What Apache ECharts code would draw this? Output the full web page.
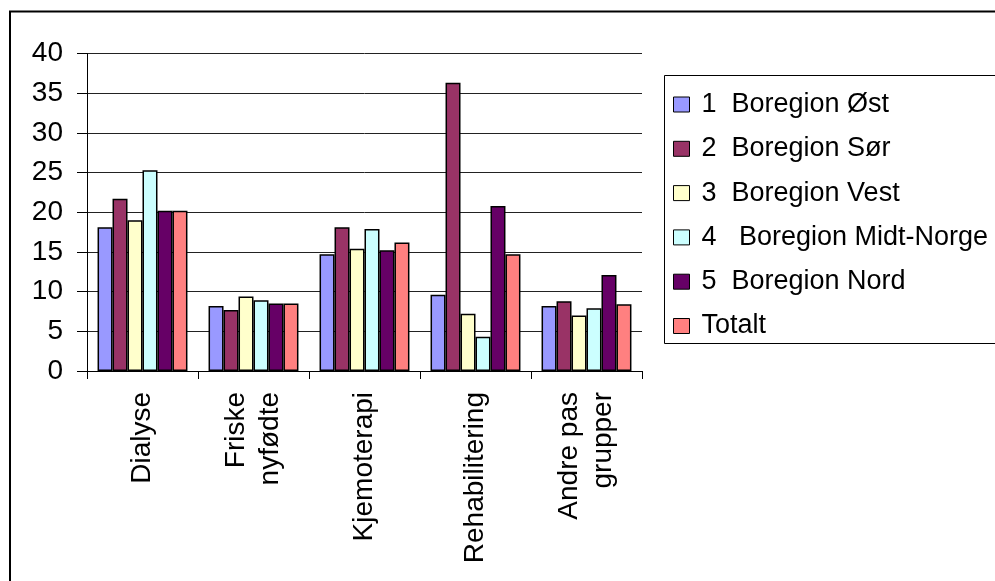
<!DOCTYPE html>
<html>
<head>
<meta charset="utf-8">
<script src="https://cdn.jsdelivr.net/npm/echarts@6/dist/echarts.min.js"></script>
<style>
html, body { margin: 0; padding: 0; background: #fff; }
#chart { width: 995px; height: 581px; }
</style>
</head>
<body>
<div id="chart"></div>
<script>
// kategorier og verdier lest av figuren
var categories = ['Dialyse', 'Friske\nnyfødte', 'Kjemoterapi', 'Rehabilitering', 'Andre pas\ngrupper'];
var seriesNames = ['1  Boregion Øst', '2  Boregion Sør', '3  Boregion Vest', '4   Boregion Midt-Norge', '5  Boregion Nord', 'Totalt'];
var ost = [18.1, 8.2, 14.7, 9.6, 8.2];
var sor = [21.7, 7.7, 18.1, 36.3, 8.8];
var vest = [19.0, 9.4, 15.4, 7.2, 7.0];
var midt = [25.3, 8.9, 17.9, 4.3, 7.9];
var nord = [20.2, 8.5, 15.2, 20.8, 12.1];
var totalt = [20.2, 8.5, 16.2, 14.7, 8.4];
var yTicks = [0, 40, 5]; // min, max, steg
var colors = ['#9999ff', '#993366', '#ffffcc', '#ccffff', '#660066', '#ff8080'];

var allData = [ost, sor, vest, midt, nord, totalt];
var font = 'Liberation Sans, Arial, sans-serif';

var myChart = echarts.init(document.getElementById('chart'));

var series = [];
for (let i = 0; i < allData.length; i++) {
    series.push({
        name: seriesNames[i],
        type: 'bar',
        data: allData[i],
        barGap: '0%',
        barCategoryGap: '19%',
        itemStyle: {
            color: colors[i],
            borderColor: '#000',
            borderWidth: 1.5
        }
    });
}

var option = {
    animation: false,
    backgroundColor: '#fff',
    color: colors,
    grid: {
        left: 87,
        right: 353,
        top: 53.5,
        bottom: 210,
        containLabel: false
    },
    legend: {
        orient: 'vertical',
        left: 668,
        top: 86,
        itemWidth: 16,
        itemHeight: 15,
        itemGap: 17.3,
        icon: 'rect',
        itemStyle: {
            borderColor: '#000',
            borderWidth: 1
        },
        textStyle: {
            fontFamily: font,
            fontSize: 27,
            color: '#000',
            padding: [0, 0, 0, 7]
        },
        data: seriesNames
    },
    xAxis: {
        type: 'category',
        data: categories,
        axisLine: { lineStyle: { color: '#000', width: 1 } },
        axisTick: { show: true, length: 8, lineStyle: { color: '#000' } },
        axisLabel: {
            rotate: 90,
            margin: 21,
            fontFamily: font,
            fontSize: 28,
            color: '#000',
            lineHeight: 34
        }
    },
    yAxis: {
        type: 'value',
        min: yTicks[0],
        max: yTicks[1],
        interval: yTicks[2],
        axisLine: { show: true, lineStyle: { color: '#000', width: 1 } },
        axisTick: { show: true, length: 10, lineStyle: { color: '#000' } },
        axisLabel: {
            margin: 24,
            fontFamily: font,
            fontSize: 28,
            color: '#000'
        },
        splitLine: { show: true, lineStyle: { color: '#222', width: 1 } }
    },
    graphic: [
        {
            type: 'rect',
            shape: { x: 10, y: 11.5, width: 1100, height: 700 },
            style: { fill: 'none', stroke: '#000', lineWidth: 2 },
            silent: true
        },
        {
            type: 'rect',
            shape: { x: 664.5, y: 75.5, width: 400, height: 268 },
            style: { fill: 'none', stroke: '#000', lineWidth: 1 },
            silent: true
        }
    ],
    series: series
};

myChart.setOption(option);
</script>
</body>
</html>
